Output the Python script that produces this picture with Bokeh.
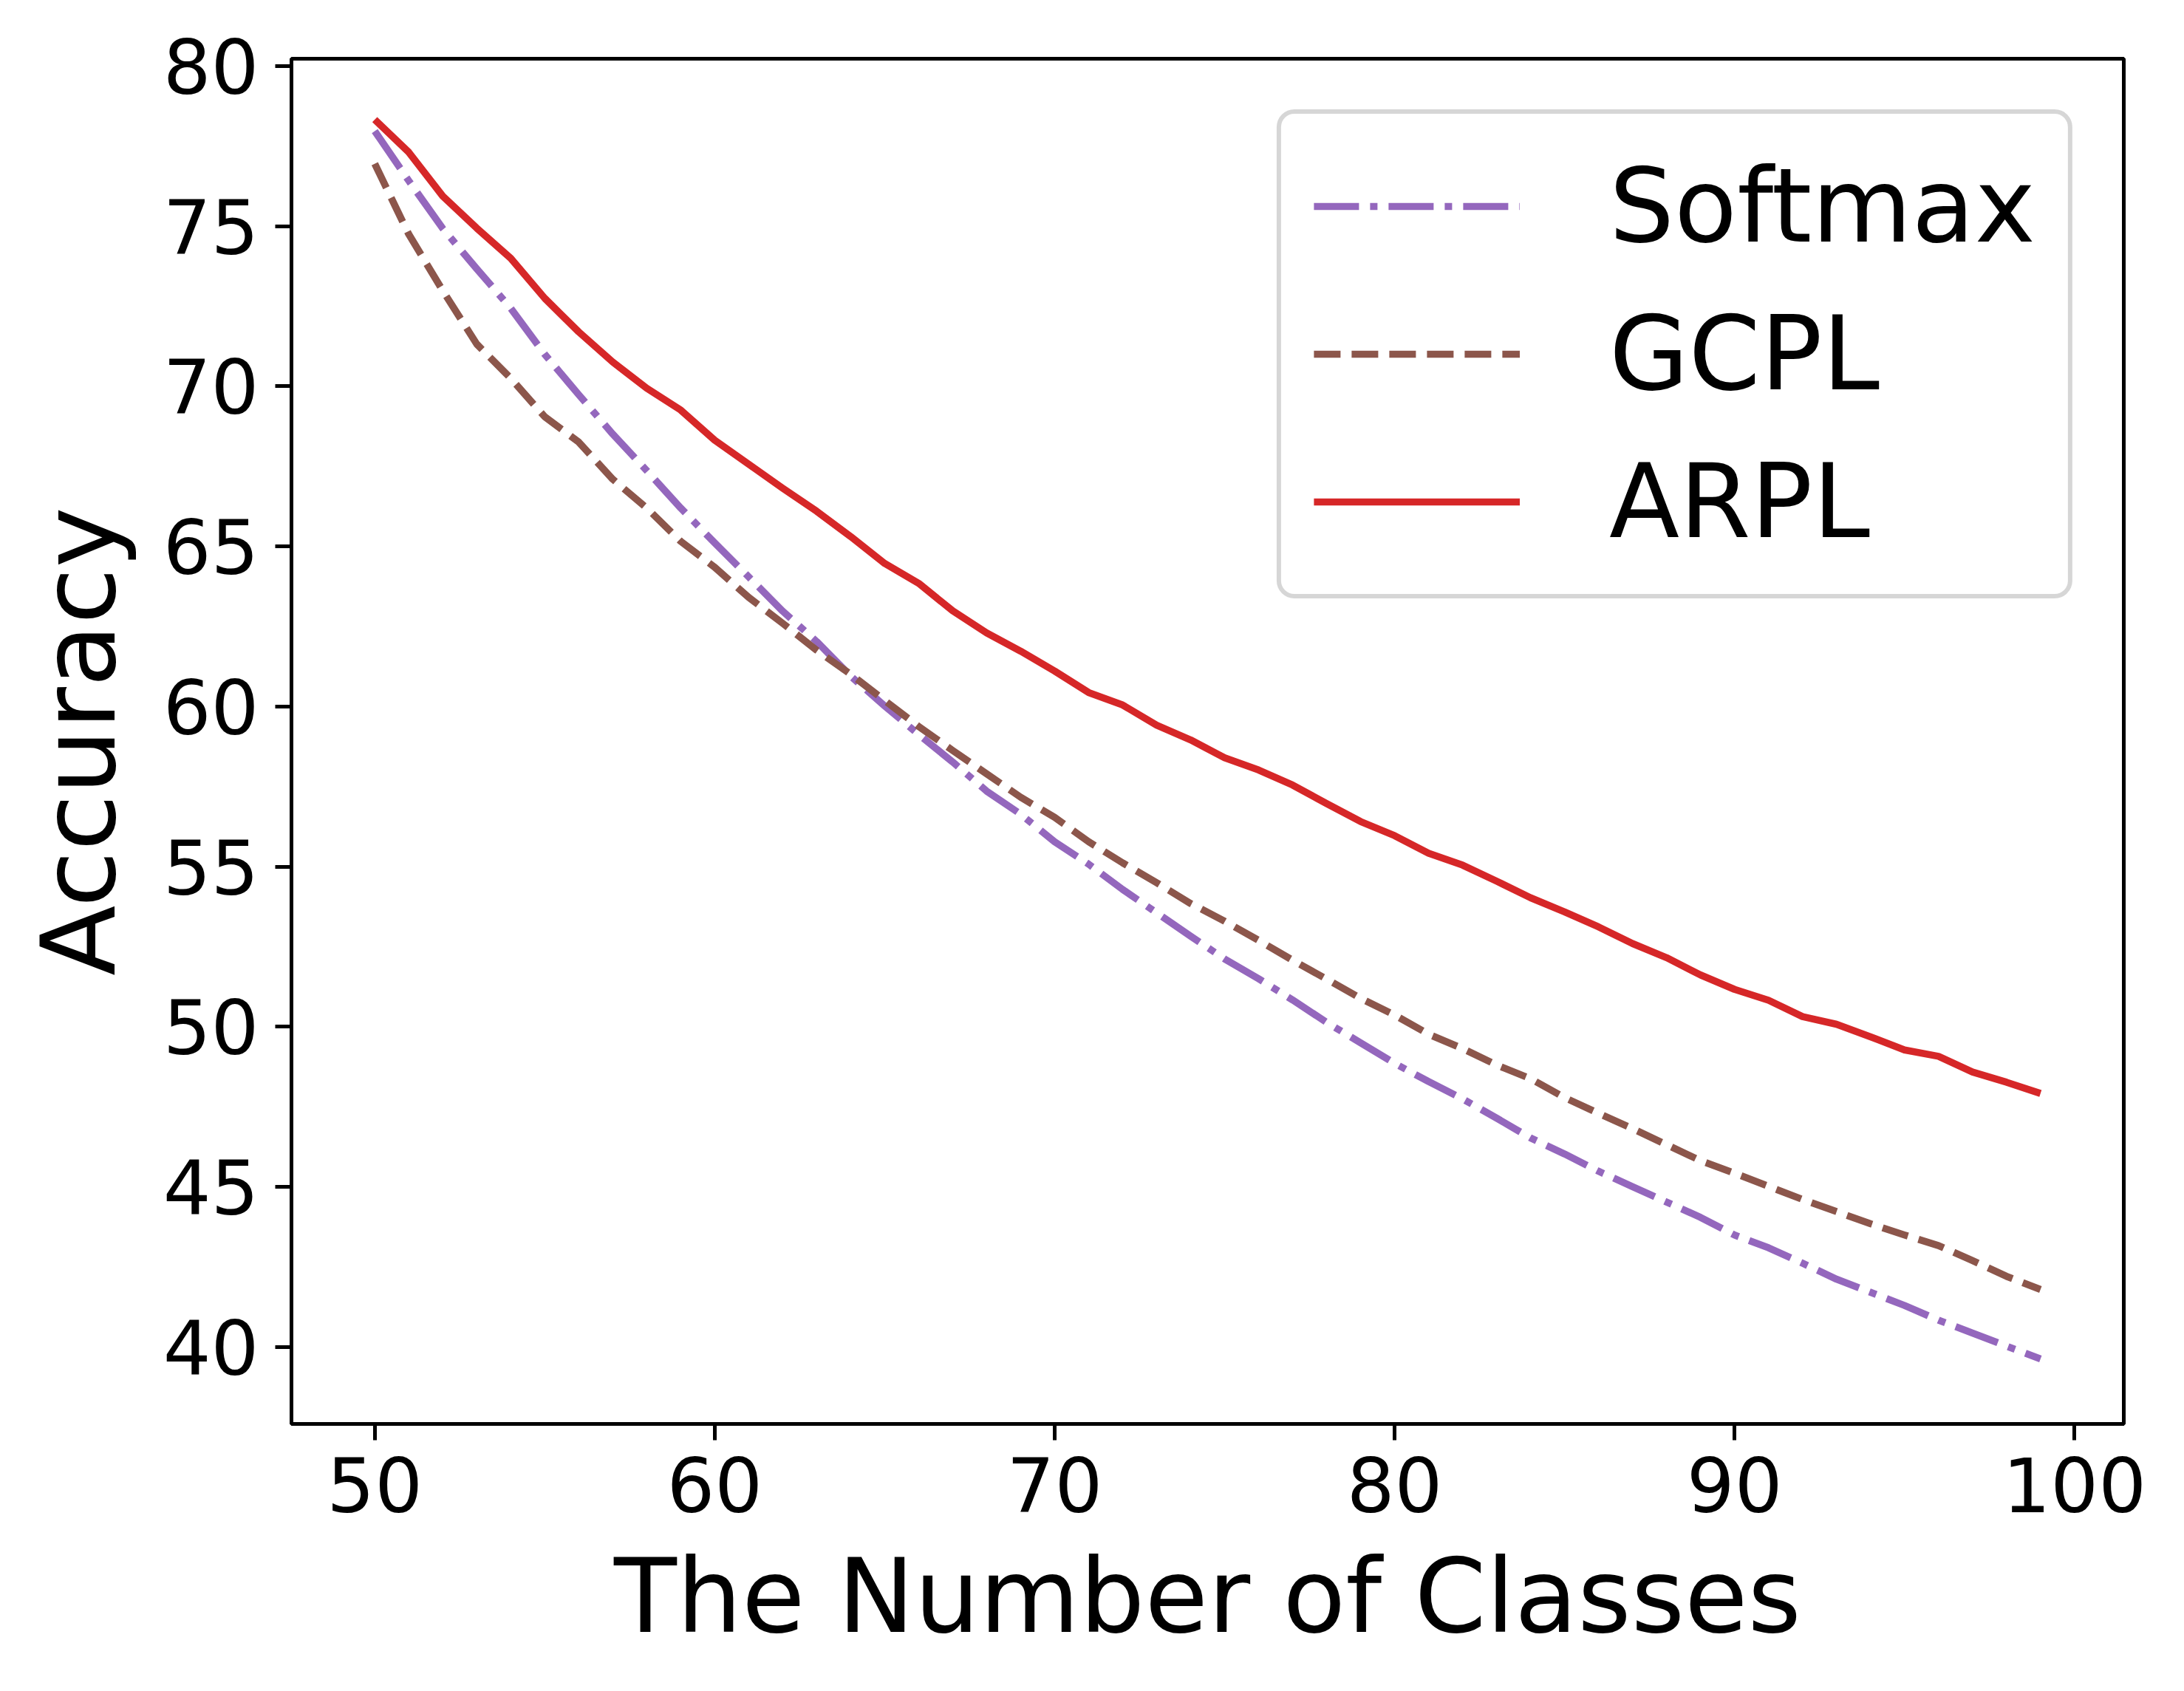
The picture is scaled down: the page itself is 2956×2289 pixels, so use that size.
from bokeh.plotting import figure
from bokeh.models import Range1d, FixedTicker, Legend, LegendItem
from bokeh.embed import file_html
from bokeh.resources import INLINE

classes = list(range(50, 100))

softmax = [77.97, 76.42, 74.93, 73.67, 72.44, 71.00, 69.74, 68.51, 67.37, 66.20,
           65.11, 64.05, 62.98, 62.03, 60.95, 60.02, 59.13, 58.27, 57.36, 56.64,
           55.78, 55.08, 54.29, 53.56, 52.83, 52.12, 51.50, 50.84, 50.14, 49.50,
           48.86, 48.29, 47.75, 47.15, 46.53, 46.03, 45.49, 45.01, 44.53, 44.05,
           43.50, 43.10, 42.62, 42.12, 41.71, 41.30, 40.84, 40.44, 40.03, 39.63]

gcpl = [76.95, 74.75, 72.99, 71.32, 70.25, 69.05, 68.26, 67.10, 66.20, 65.16,
        64.35, 63.41, 62.60, 61.76, 61.01, 60.19, 59.38, 58.63, 57.90, 57.17,
        56.54, 55.78, 55.12, 54.50, 53.85, 53.30, 52.70, 52.08, 51.49, 50.89,
        50.37, 49.77, 49.32, 48.81, 48.38, 47.79, 47.30, 46.82, 46.32, 45.82,
        45.43, 45.02, 44.61, 44.23, 43.85, 43.50, 43.17, 42.70, 42.21, 41.80]

arpl = [78.33, 77.31, 75.94, 74.94, 74.00, 72.75, 71.70, 70.76, 69.94, 69.26,
        68.32, 67.57, 66.82, 66.10, 65.31, 64.47, 63.85, 62.99, 62.30, 61.73,
        61.11, 60.44, 60.05, 59.42, 58.96, 58.40, 58.02, 57.55, 56.97, 56.41,
        55.97, 55.42, 55.05, 54.55, 54.03, 53.59, 53.12, 52.60, 52.16, 51.62,
        51.17, 50.83, 50.32, 50.08, 49.69, 49.28, 49.08, 48.59, 48.27, 47.92]

x_ticks = [50, 60, 70, 80, 90, 100]
y_ticks = [40, 45, 50, 55, 60, 65, 70, 75, 80]

series_names = ["Softmax", "GCPL", "ARPL"]
colors = ["#9467bd", "#8c564b", "#d62728"]
dashes = ["61 15 10 15", "36 15", "solid"]

FONT = "DejaVu Sans"

p = figure(width=2940, height=2273, output_backend="svg", toolbar_location=None,
           x_range=Range1d(47.55, 101.45), y_range=Range1d(37.6, 80.23),
           min_border_left=394, min_border_right=66,
           min_border_top=79, min_border_bottom=346)
p.grid.visible = False
p.outline_line_color = "black"
p.outline_line_width = 5
p.background_fill_color = "white"
p.border_fill_color = "white"

p.xaxis.ticker = FixedTicker(ticks=x_ticks)
p.yaxis.ticker = FixedTicker(ticks=y_ticks)
p.xaxis.axis_label = "The Number of Classes"
p.yaxis.axis_label = "Accuracy"
for ax in p.axis:
    ax.axis_line_width = 5
    ax.axis_line_color = "black"
    ax.major_tick_line_width = 5
    ax.major_tick_out = 22
    ax.major_tick_in = 0
    ax.minor_tick_line_color = None
    ax.major_label_text_font = FONT
    ax.major_label_text_font_size = "102px"
    ax.major_label_text_color = "black"
    ax.axis_label_text_font = FONT
    ax.axis_label_text_font_size = "139px"
    ax.axis_label_text_font_style = "normal"
    ax.axis_label_text_color = "black"
    ax.major_label_standoff = 22
    ax.axis_label_standoff = 30

renderers = []
for ys, c, d in zip([softmax, gcpl, arpl], colors, dashes):
    r = p.line(classes, ys, line_color=c, line_width=9.6, line_dash=d,
               line_join="round")
    renderers.append(r)

legend = Legend(items=[LegendItem(label=n, renderers=[r]) for n, r in zip(series_names, renderers)],
                location="top_right")
legend.label_text_font = FONT
legend.label_text_font_size = "139px"
legend.label_text_color = "black"
legend.glyph_width = 279
legend.glyph_height = 150
legend.label_height = 150
legend.label_standoff = 121
legend.spacing = 38
legend.padding = 44
legend.margin = 69
legend.border_line_color = "#cccccc"
legend.border_line_alpha = 0.8
legend.border_line_width = 6
legend.background_fill_color = "white"
legend.background_fill_alpha = 0.8
try:
    legend.border_radius = 24
except Exception:
    pass
p.add_layout(legend, "center")

open("out.html", "w").write(file_html(p, INLINE))
